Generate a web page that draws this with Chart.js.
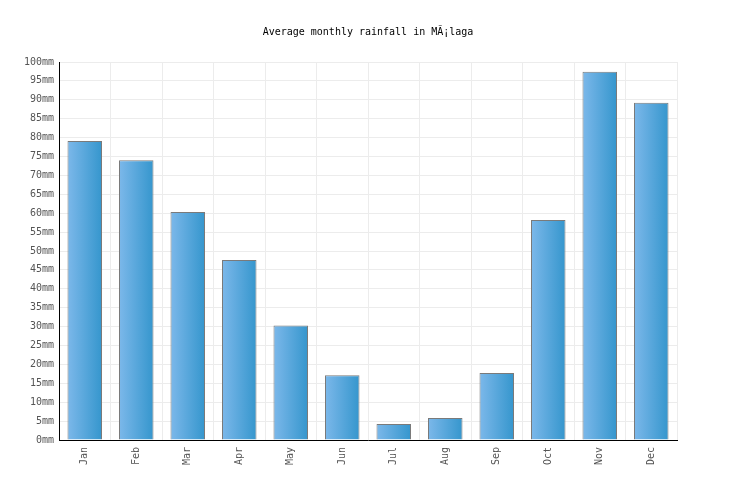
<!DOCTYPE html>
<html>
<head>
<meta charset="utf-8">
<script src="https://cdn.jsdelivr.net/npm/chart.js@4"></script>
<style>
html,body{margin:0;padding:0;background:#fff;}
#wrap{width:736px;height:500px;}
</style>
</head>
<body>
<div id="wrap"><canvas id="c" width="736" height="500"></canvas></div>
<script>
const months = ["Jan","Feb","Mar","Apr","May","Jun","Jul","Aug","Sep","Oct","Nov","Dec"];
const rainfall = [79.1, 74.0, 60.3, 47.6, 30.3, 17.1, 4.2, 5.8, 17.7, 58.2, 97.4, 89.2];
const titleText = "Average monthly rainfall in MÃ¡laga";
const unit = "mm";

const FONT = "'DejaVu Sans Mono', monospace";

function barGradient(ctx) {
  const chart = ctx.chart;
  const xs = chart.scales && chart.scales.x;
  if (!chart.chartArea || !xs || ctx.dataIndex === undefined) return '#5aa8dd';
  const cx = xs.getPixelForValue(ctx.dataIndex);
  const w = (xs.width / months.length) * 0.67;
  const g = chart.ctx.createLinearGradient(cx - w / 2, 0, cx + w / 2, 0);
  g.addColorStop(0, '#7cb8ea');
  g.addColorStop(1, '#3596cd');
  return g;
}

new Chart(document.getElementById('c'), {
  type: 'bar',
  data: {
    labels: months,
    datasets: [{
      data: rainfall,
      backgroundColor: barGradient,
      borderColor: '#7a7a7a',
      borderWidth: 1,
      categoryPercentage: 0.67,
      barPercentage: 1.0
    }]
  },
  options: {
    responsive: false,
    animation: false,
    devicePixelRatio: 1,
    layout: { padding: 0 },
    plugins: {
      legend: { display: false },
      tooltip: { enabled: false },
      title: {
        display: true,
        text: titleText,
        color: '#000',
        font: { family: FONT, size: 10, weight: 'normal' },
        padding: { top: 26, bottom: 24 }
      }
    },
    scales: {
      x: {
        grid: { color: '#ececec', lineWidth: 1, drawTicks: false, offset: true },
        border: { color: '#000', width: 1 },
        ticks: {
          color: '#555',
          font: { family: FONT, size: 10 },
          maxRotation: 90, minRotation: 90,
          padding: 7,
          autoSkip: false
        },
        afterFit: (s) => { s.height = 60; }
      },
      y: {
        min: 0, max: 100,
        grid: { color: '#ececec', lineWidth: 1, drawTicks: false },
        border: { color: '#000', width: 1 },
        ticks: {
          stepSize: 5,
          color: '#555',
          font: { family: FONT, size: 10 },
          padding: 5,
          callback: (v) => v + unit
        },
        afterFit: (s) => { s.width = 59; }
      },
      yRight: {
        position: 'right',
        min: 0, max: 100,
        grid: { display: false, drawTicks: false },
        border: { display: false },
        ticks: { display: false },
        afterFit: (s) => { s.width = 59; }
      }
    }
  }
});
</script>
</body>
</html>
